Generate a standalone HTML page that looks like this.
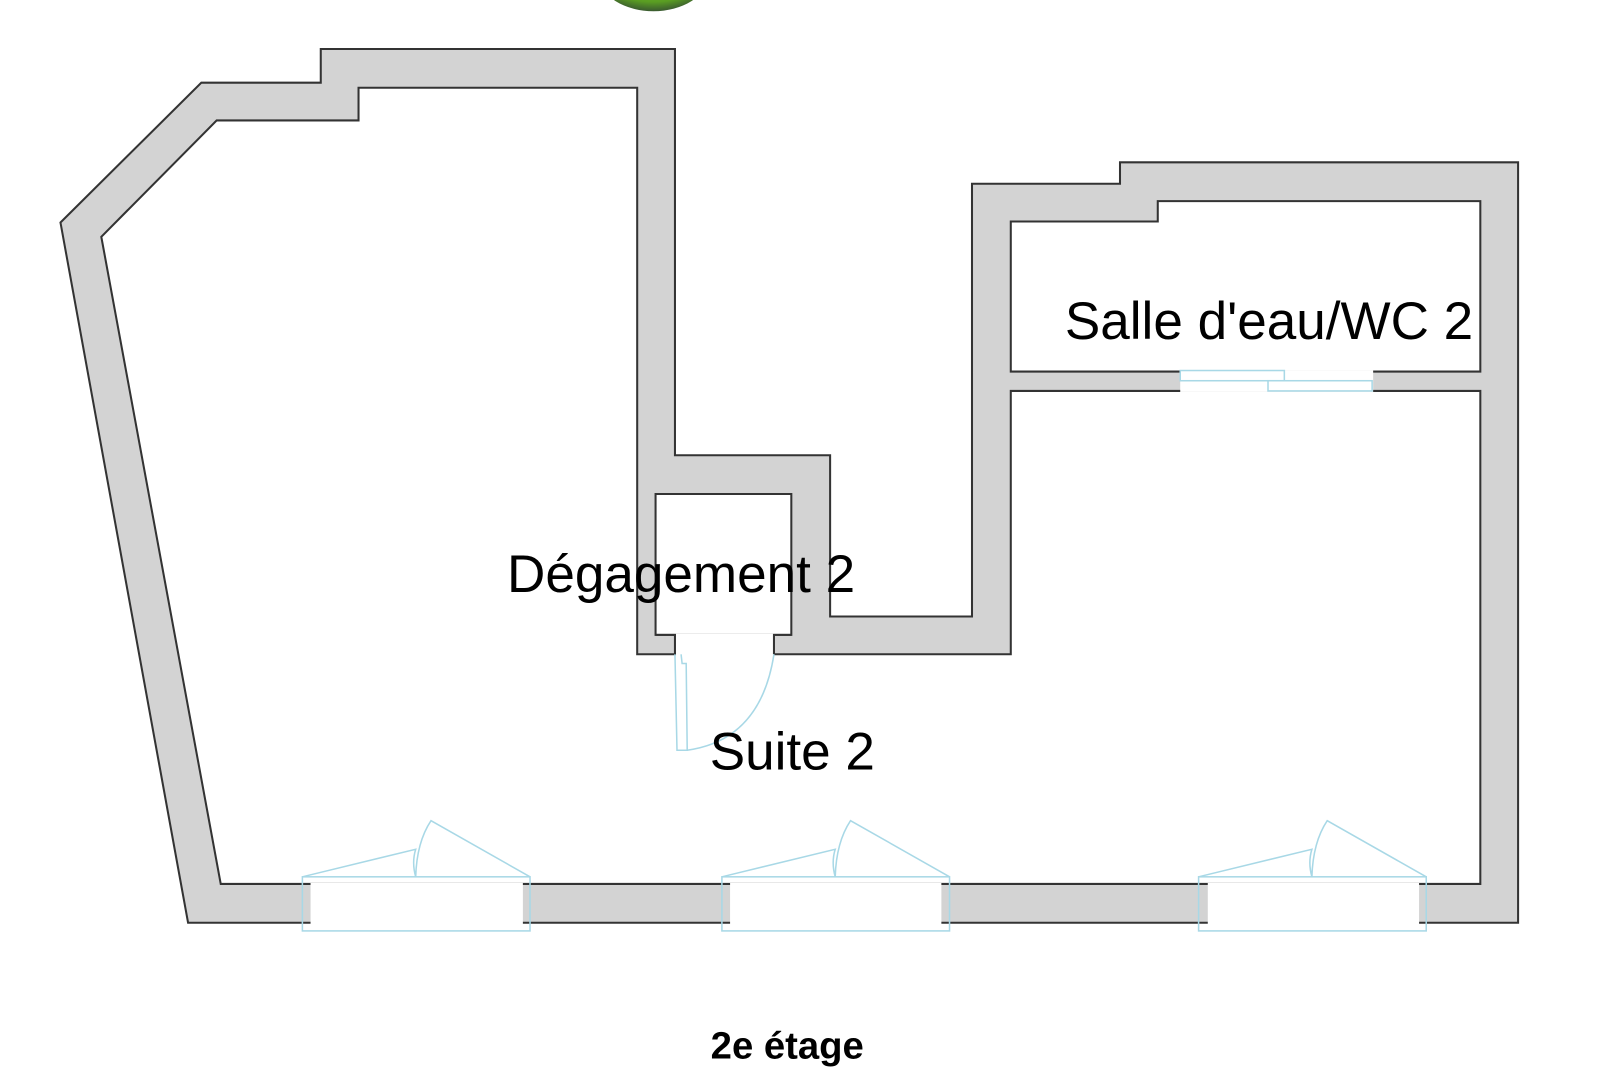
<!DOCTYPE html>
<html><head><meta charset="utf-8"><style>
html,body{margin:0;padding:0;background:#fff;width:1600px;height:1083px;overflow:hidden}
svg{display:block}
text{font-family:"Liberation Sans",sans-serif;fill:#000}
</style></head><body>
<svg width="1600" height="1083" viewBox="0 0 1567 1061" xmlns="http://www.w3.org/2000/svg">
<defs><radialGradient id="g" cx="50%" cy="30%" r="70%"><stop offset="0" stop-color="#8fd14f"/><stop offset="0.8" stop-color="#5a9e22"/><stop offset="1" stop-color="#3a5a30"/></radialGradient></defs>
<ellipse cx="640" cy="-22" rx="52" ry="33" fill="url(#g)"/>
<path fill-rule="evenodd" fill="#d3d3d3" stroke="#333" stroke-width="2"
d="M184,904 L59,218 L197,81 L314,81 L314,48 L661,48 L661,446 L813,446 L813,604 L952,604 L952,180 L1097,180 L1097,159 L1487,159 L1487,904 Z
M216,866 L99,232 L212,118 L351,118 L351,86 L624,86 L624,641 L990,641 L990,383 L1450,383 L1450,866 Z
M642,484 L775,484 L775,622 L642,622 Z
M990,217 L1134,217 L1134,197 L1450,197 L1450,364 L990,364 Z"/>
<g fill="#fff" stroke="none">
<rect x="662" y="621" width="96" height="22"/>
<rect x="1156" y="363" width="189" height="21"/>
<rect x="304" y="865" width="208" height="41"/>
<rect x="715" y="865" width="207" height="41"/>
<rect x="1183" y="865" width="207" height="41"/>
</g>
<g fill="none" stroke="#333" stroke-width="2">
<path d="M642,622 L661,622 L661,641 M775,622 L758,622 L758,641"/>
</g>
<g fill="none" stroke="#a8d8e6" stroke-width="1.5">
<rect x="1156" y="363" width="102" height="10"/>
<rect x="1242" y="373" width="102" height="10"/>
<path d="M661,641 L663,735 L673,735 L672,650 L668,650 L667,641"/>
<path d="M673,735 Q745,725 758,641"/>
<g id="w">
<rect x="296" y="859" width="223" height="53"/>
<path d="M296,859 L407,832 Q403,845 407,859 Q408,825 422,804 L519,859"/>
</g>
<use href="#w" x="411"/>
<use href="#w" x="878"/>
</g>
<text x="667" y="580" font-size="52" text-anchor="middle">Dégagement 2</text>
<text x="776" y="754" font-size="52" text-anchor="middle">Suite 2</text>
<text x="1243" y="332" font-size="52" text-anchor="middle">Salle d'eau/WC 2</text>
<text x="771" y="1037" font-size="37.5" font-weight="bold" text-anchor="middle">2e étage</text>
</svg>
</body></html>
